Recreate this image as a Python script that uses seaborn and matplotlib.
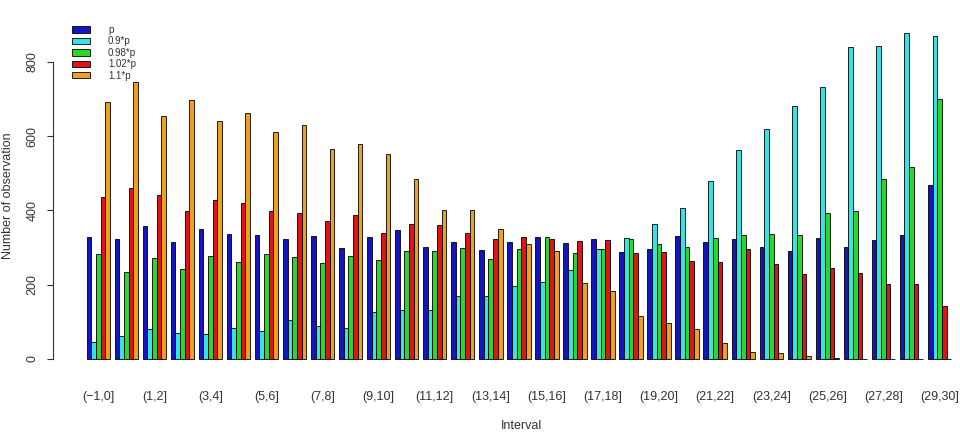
import matplotlib
matplotlib.use("Agg")
import matplotlib.pyplot as plt
import seaborn as sns
import pandas as pd
from matplotlib.patches import Patch

intervals = ["(\u22121,0]", "(0,1]", "(1,2]", "(2,3]", "(3,4]", "(4,5]", "(5,6]", "(6,7]",
             "(7,8]", "(8,9]", "(9,10]", "(10,11]", "(11,12]", "(12,13]", "(13,14]",
             "(14,15]", "(15,16]", "(16,17]", "(17,18]", "(18,19]", "(19,20]", "(20,21]",
             "(21,22]", "(22,23]", "(23,24]", "(24,25]", "(25,26]", "(26,27]", "(27,28]",
             "(28,29]", "(29,30]"]
series = ["p", "0.9*p", "0.98*p", "1.02*p", "1.1*p"]

# counts, one list per series
p_vals = [327, 323, 359, 315, 349, 336, 334, 324, 332, 298, 328, 347, 301, 316, 292, 315,
          327, 312, 324, 287, 297, 331, 315, 322, 300, 291, 325, 302, 320, 333, 468]
p090_vals = [46, 62, 81, 71, 68, 83, 76, 104, 89, 84, 125, 132, 132, 169, 169, 196,
             206, 239, 297, 325, 364, 407, 479, 562, 618, 680, 733, 839, 842, 878, 869]
p098_vals = [282, 234, 273, 241, 277, 261, 282, 274, 258, 278, 266, 291, 291, 299, 268, 297,
             328, 286, 297, 323, 309, 302, 326, 334, 335, 334, 392, 399, 484, 517, 699]
p102_vals = [435, 459, 442, 399, 428, 421, 399, 392, 371, 388, 338, 364, 360, 339, 322, 328,
             324, 317, 320, 284, 288, 263, 260, 295, 256, 229, 246, 232, 202, 202, 143]
p110_vals = [691, 746, 654, 697, 640, 662, 610, 629, 565, 580, 551, 484, 402, 400, 349, 310,
             291, 205, 182, 116, 96, 80, 44, 19, 15, 8, 2, 1, 0, 0, 0]

colors = ["#1414c4", "#34e4e4", "#2ad82a", "#e01414", "#f0a020"]

rows = []
for name, vals in zip(series, [p_vals, p090_vals, p098_vals, p102_vals, p110_vals]):
    for iv, v in zip(intervals, vals):
        rows.append({"interval": iv, "series": name, "count": v})
df = pd.DataFrame(rows)

sns.set_style("white")
plt.rcParams["font.family"] = ["Liberation Sans", "DejaVu Sans"]
txt = "#333333"

fig = plt.figure(figsize=(9.6, 4.46), dpi=100)
ax = fig.add_axes([53 / 960, 74 / 446, 907 / 960, 353 / 446])

sns.barplot(data=df, x="interval", y="count", hue="series", order=intervals,
            hue_order=series, palette=colors, width=5 / 6, saturation=1,
            edgecolor="black", linewidth=0.6, errorbar=None, legend=False, ax=ax)

ax.set_xlim(-1.612, 30.73)
ax.set_ylim(-35.2, 915.2)

ax.set_xticks(range(0, 31, 2))
ax.set_xticklabels(intervals[::2])
ax.tick_params(axis="x", length=0, pad=14, labelsize=9, labelcolor=txt)

ax.set_yticks([0, 200, 400, 600, 800])
ax.tick_params(axis="y", length=4.3, width=0.8, pad=6, labelsize=9,
               labelcolor=txt, color=txt, left=True)
for lab in ax.get_yticklabels():
    lab.set_rotation(90)
    lab.set_va("center")
    lab.set_ha("right")

for s in ["top", "right", "bottom"]:
    ax.spines[s].set_visible(False)
ax.spines["left"].set_bounds(0, 800)
ax.spines["left"].set_color(txt)
ax.spines["left"].set_linewidth(0.8)

ax.set_xlabel("Interval", fontsize=9, color=txt)
ax.xaxis.set_label_coords(0.516, -0.136)
ax.set_ylabel("Number of observation", fontsize=9, color=txt)
ax.yaxis.set_label_coords(-0.043, 0.5)

handles = [Patch(facecolor=c, edgecolor="black", linewidth=0.6) for c in colors]
leg = ax.legend(handles, series, loc="upper left", bbox_to_anchor=(72 / 960, 1 - 25 / 446),
                bbox_transform=fig.transFigure, frameon=False, fontsize=7,
                handlelength=1.85, handleheight=0.6, handletextpad=1.85,
                labelspacing=0.15, borderpad=0, borderaxespad=0)
for t in leg.get_texts():
    t.set_color(txt)

fig.savefig("out.png", dpi=100)
